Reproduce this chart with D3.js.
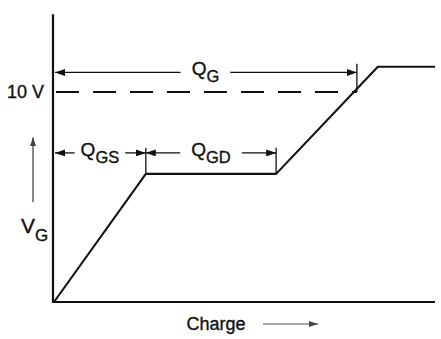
<!DOCTYPE html>
<html>
<head>
<meta charset="utf-8">
<script src="https://cdn.jsdelivr.net/npm/d3@7"></script>
<style>
  body { margin: 0; background: #fff; }
  text { font-family: "Liberation Sans", Arial, sans-serif; fill: #111; stroke: #111; stroke-width: 0.35; }
</style>
</head>
<body>
<div id="chart"></div>
<script>
// Gate charge curve: V_G vs charge
const width = 441, height = 339;

// curve vertices (charge in % of axis, volts)
const charge = [0, 24.1, 58.3, 85.0, 100];
const gateVolts = [0, 6.1, 6.1, 11.2, 11.2];

// dimension arrows
const dimSub = ["G", "GS", "GD"];
const dimStart = [0, 0, 24.1];
const dimEnd = [79.5, 24.1, 58.3];
const dimLevel = [10.93, 7.1, 7.1];

// vertical end marks of the dimensions
const markCharge = [24.1, 58.3, 79.5];
const markFrom = [6.1, 6.1, 10];
const markTo = [7.35, 7.35, 11.35];

const refVolts = 10, refLabel = "10 V";
const yAxisTop = 13.7;

const x = d3.scaleLinear().domain([0, 100]).range([54, 435]);
const y = d3.scaleLinear().domain([0, 10]).range([302, 92]);

const svg = d3.select("#chart").append("svg")
  .attr("width", width).attr("height", height)
  .attr("viewBox", `0 0 ${width} ${height}`);

const defs = svg.append("defs");
function arrowMarker(id, len, wid, color) {
  defs.append("marker")
    .attr("id", id)
    .attr("viewBox", `0 0 ${len} ${wid}`)
    .attr("refX", len).attr("refY", wid / 2)
    .attr("markerWidth", len).attr("markerHeight", wid)
    .attr("markerUnits", "userSpaceOnUse")
    .attr("orient", "auto-start-reverse")
    .append("path")
    .attr("d", `M0,0L${len},${wid / 2}L0,${wid}Z`)
    .attr("fill", color);
}
arrowMarker("head", 10, 7, "#111");
arrowMarker("headGrey", 9, 6, "#444");

// axes
svg.append("line")
  .attr("x1", x(0) - 1).attr("x2", x(0) - 1)
  .attr("y1", y(yAxisTop)).attr("y2", y(0) + 1)
  .attr("stroke", "#111").attr("stroke-width", 2.2);
svg.append("line")
  .attr("x1", x(0) - 1).attr("x2", x(100))
  .attr("y1", y(0)).attr("y2", y(0))
  .attr("stroke", "#111").attr("stroke-width", 2.2);

// dashed 10 V reference
svg.append("line")
  .attr("x1", x(0) + 2).attr("x2", x(dimEnd[0]))
  .attr("y1", y(refVolts)).attr("y2", y(refVolts))
  .attr("stroke", "#111").attr("stroke-width", 1.8)
  .attr("stroke-dasharray", "23,14");

svg.append("text")
  .attr("x", x(0) - 10).attr("y", y(refVolts) + 6)
  .attr("text-anchor", "end").attr("font-size", 18)
  .text(refLabel);

// the curve
const line = d3.line().x(d => x(d[0])).y(d => y(d[1]));
svg.append("path")
  .datum(d3.zip(charge, gateVolts))
  .attr("d", line)
  .attr("fill", "none").attr("stroke", "#111")
  .attr("stroke-width", 2.1).attr("stroke-linejoin", "round");

// end marks
markCharge.forEach((c, i) => {
  svg.append("line")
    .attr("x1", x(c)).attr("x2", x(c))
    .attr("y1", y(markFrom[i])).attr("y2", y(markTo[i]))
    .attr("stroke", "#111").attr("stroke-width", 1.3);
});

// dimension lines with labels
dimSub.forEach((sub, i) => {
  const ly = y(dimLevel[i]);
  const cx = (x(dimStart[i]) + x(dimEnd[i])) / 2;
  const t = svg.append("text")
    .attr("x", cx).attr("y", ly + 3)
    .attr("text-anchor", "middle").attr("font-size", 19);
  t.append("tspan").text("Q");
  t.append("tspan").attr("dy", 7).attr("font-size", 16.5).text(sub);
  const bb = t.node().getBBox();
  const pad = i === 1 ? 6 : 11;
  const x0 = x(dimStart[i]) + (dimStart[i] === 0 ? 1 : 0);
  svg.append("line")
    .attr("x1", x0).attr("x2", bb.x - pad)
    .attr("y1", ly).attr("y2", ly)
    .attr("stroke", "#111").attr("stroke-width", 1.3)
    .attr("marker-start", "url(#head)");
  svg.append("line")
    .attr("x1", bb.x + bb.width + pad).attr("x2", x(dimEnd[i]))
    .attr("y1", ly).attr("y2", ly)
    .attr("stroke", "#111").attr("stroke-width", 1.3)
    .attr("marker-end", "url(#head)");
});

// V_G label with up arrow
svg.append("line")
  .attr("x1", 33).attr("x2", 33)
  .attr("y1", y(4.75)).attr("y2", y(7.85))
  .attr("stroke", "#555").attr("stroke-width", 1.4)
  .attr("marker-end", "url(#headGrey)");
const vg = svg.append("text")
  .attr("x", 21).attr("y", y(3.27))
  .attr("font-size", 21);
vg.append("tspan").text("V");
vg.append("tspan").attr("dy", 8).attr("font-size", 17).text("G");

// x-axis label with arrow
svg.append("text")
  .attr("x", 216).attr("y", 330)
  .attr("text-anchor", "middle").attr("font-size", 18)
  .text("Charge");
svg.append("line")
  .attr("x1", 263).attr("x2", 318)
  .attr("y1", 324).attr("y2", 324)
  .attr("stroke", "#555").attr("stroke-width", 1.2)
  .attr("marker-end", "url(#headGrey)");
</script>
</body>
</html>
